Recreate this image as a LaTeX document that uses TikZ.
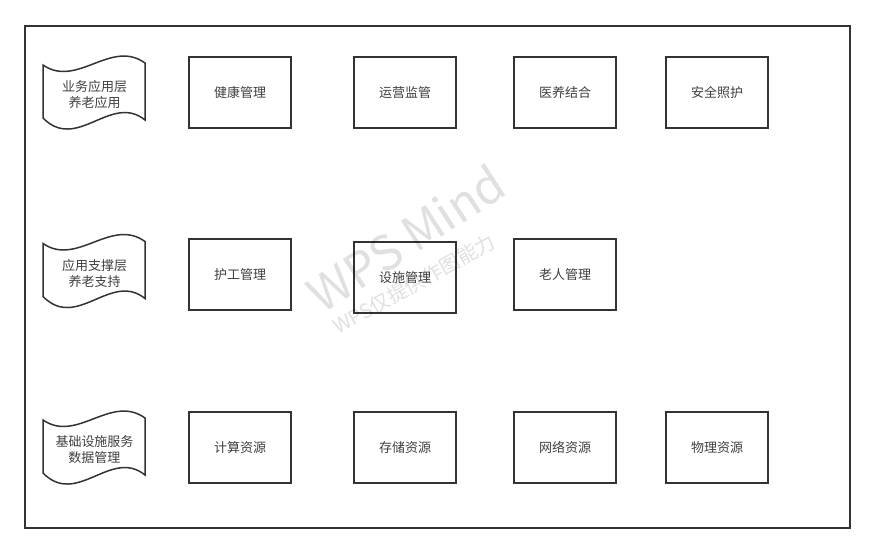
\documentclass[tikz,border=0pt]{standalone}
\usepackage{fontspec}
\setmainfont{Noto Sans CJK SC}
\usetikzlibrary{positioning}

\tikzset{
    modbox/.style={draw=black!80,line width=1.8pt,fill=white,minimum width=102pt,minimum height=71pt,inner sep=0pt,text=black!75,font=\fontsize{13}{16}\selectfont},
    layertext/.style={inner sep=0pt,align=center,text=black!75,font=\fontsize{13}{16}\selectfont},
    layertape/.style={draw=black!80,line width=1.5pt,fill=white},
    wmark/.style={text=black,text opacity=0.12,inner sep=0pt}
}

\begin{document}
\begin{tikzpicture}[x=1pt,y=-1pt]
            \useasboundingbox (0,0) rectangle (876,555);
            \draw[line width=1.8pt,black!80] (25,26) rectangle (850,528);
            % layers on the left
            \foreach \y/\n/\t in {91.5/ywyy/{业务应用层\\养老应用},270/yyzc/{应用支撑层\\养老支持},446.5/jcss/{基础设施服务\\数据管理}}{
                \draw[layertape] (43,\y-26.5) .. controls (77,\y-3) and (111,\y-53) .. (145,\y-28.5) -- (145,\y+28.5) .. controls (111,\y+1) and (77,\y+61) .. (43,\y+26.5) -- cycle;
                \node[layertext] (\n) at (94.5,\y+3.5) {\t};
            }
            % modules
            \foreach \x/\y/\n/\t in {240/92.5/jkgl/健康管理,405/92.5/yyjg/运营监管,565/92.5/yyjh/医养结合,717/92.5/aqzh/安全照护,
                                     240/274.5/hggl/护工管理,405/277.5/ssgl/设施管理,565/274.5/lrgl/老人管理,
                                     240/447.5/jszy/计算资源,405/447.5/cczy/存储资源,565/447.5/wlzy/网络资源,717/447.5/wulizy/物理资源}{
                \node[modbox] (\n) at (\x,\y) {\t};
            }
            % watermark
            \node[wmark,rotate=33,font=\fontsize{48}{48}\selectfont] (wm) at (406,238) {WPS Mind};
            \node[wmark,rotate=29,font=\fontsize{20}{20}\selectfont] (wmsub) at (414,284) {WPS仅提供作图能力};
\end{tikzpicture}
\end{document}
